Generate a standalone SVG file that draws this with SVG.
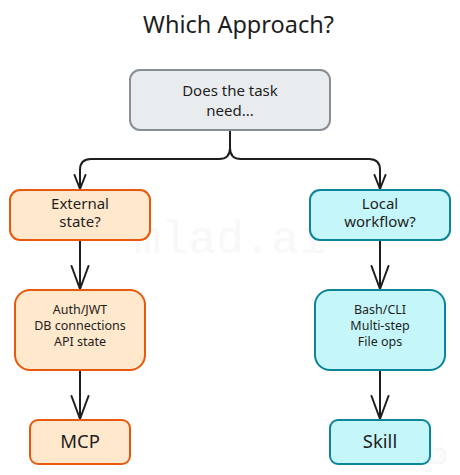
<svg xmlns="http://www.w3.org/2000/svg" width="460" height="475" viewBox="0 0 460 475">
  <style>
    text { font-family: "Noto Sans", "Open Sans", "DejaVu Sans", sans-serif; fill: #1e1e1e; text-anchor: middle; }
    .title { font-size: 23.5px; }
    .q { font-size: 15px; }
    .d { font-size: 12.5px; }
    .end { font-size: 18.5px; }
    .gray { fill: #e9ecef; stroke: #868e96; stroke-width: 2; }
    .orange { fill: #ffe8cc; stroke: #e8590c; stroke-width: 2; }
    .teal { fill: #c5f6fa; stroke: #0c8599; stroke-width: 2; }
    .edge { fill: none; stroke: #1e1e1e; stroke-width: 2; stroke-linecap: round; stroke-linejoin: round; }
    .wm { font-family: "Liberation Mono", "DejaVu Sans Mono", monospace; font-size: 46px; fill: #f8f8f8; }
  </style>

  <rect x="0" y="0" width="460" height="475" fill="#ffffff"/>

  <text class="wm" x="230" y="253">mlad.ai</text>
  <rect x="424" y="449" width="21" height="14" rx="3" fill="#fbfbfb" stroke="#f0f0f0" stroke-width="1"/>

  <text class="title" x="238.5" y="33">Which Approach?</text>

  <g id="connectors">
    <path class="edge" d="M230,130 L230,148 Q230,159 219,159 L91,159 Q80,159 80,170 L80,189"/>
    <path class="edge" d="M74.5,175 L80,189 L85.5,175"/>
    <path class="edge" d="M230,130 L230,148 Q230,159 241,159 L369,159 Q380,159 380,170 L380,189"/>
    <path class="edge" d="M374.5,175 L380,189 L385.5,175"/>
    <path class="edge" d="M80,240 L80,289"/>
    <path class="edge" d="M71.5,266 L80,289 L88.5,266"/>
    <path class="edge" d="M380,240 L380,289"/>
    <path class="edge" d="M371.5,266 L380,289 L388.5,266"/>
    <path class="edge" d="M80,370 L80,419"/>
    <path class="edge" d="M71.5,396 L80,419 L88.5,396"/>
    <path class="edge" d="M380,370 L380,419"/>
    <path class="edge" d="M371.5,396 L380,419 L388.5,396"/>
  </g>

  <g id="start">
    <rect class="gray" x="130" y="70" width="200" height="60" rx="10"/>
    <text class="q" x="230" y="96">Does the task</text>
    <text class="q" x="230" y="115.5">need...</text>
  </g>

  <g id="external">
    <rect class="orange" x="10" y="190" width="140" height="50" rx="10"/>
    <text class="q" x="80" y="208.5">External</text>
    <text class="q" x="80" y="227">state?</text>
  </g>

  <g id="local">
    <rect class="teal" x="310" y="190" width="140" height="50" rx="10"/>
    <text class="q" x="380" y="208.5">Local</text>
    <text class="q" x="380" y="227">workflow?</text>
  </g>

  <g id="external-details">
    <rect class="orange" x="15" y="290" width="130" height="80" rx="15"/>
    <text class="d" x="80" y="313.5">Auth/JWT</text>
    <text class="d" x="80" y="329.5">DB connections</text>
    <text class="d" x="80" y="346">API state</text>
  </g>

  <g id="local-details">
    <rect class="teal" x="315" y="290" width="130" height="80" rx="15"/>
    <text class="d" x="380" y="313.5">Bash/CLI</text>
    <text class="d" x="380" y="329.5">Multi-step</text>
    <text class="d" x="380" y="346">File ops</text>
  </g>

  <g id="mcp">
    <rect class="orange" x="30" y="420" width="100" height="44" rx="8"/>
    <text class="end" x="80" y="447.5">MCP</text>
  </g>

  <g id="skill">
    <rect class="teal" x="330" y="420" width="100" height="44" rx="8"/>
    <text class="end" x="380" y="447.5">Skill</text>
  </g>
</svg>
